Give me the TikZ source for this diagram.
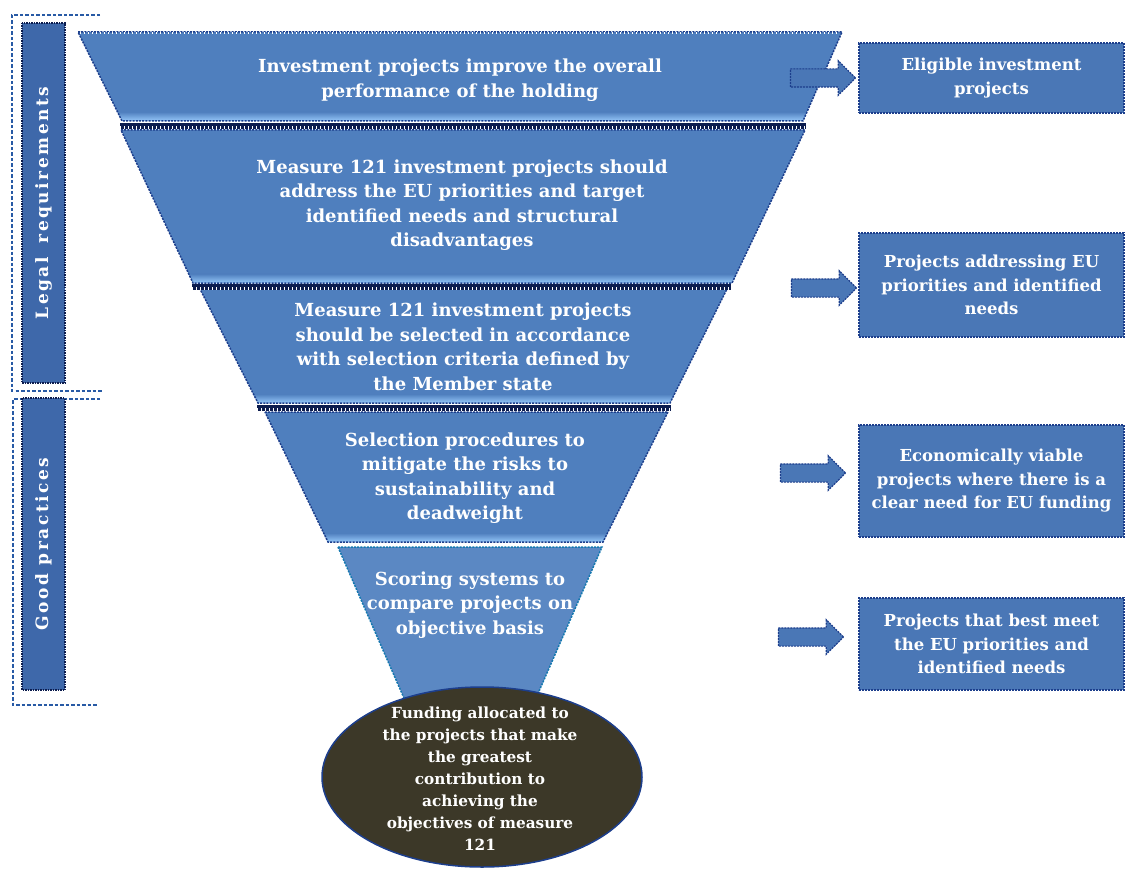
\documentclass[tikz,border=0pt]{standalone}
\usepackage{fontspec}
\setmainfont{DejaVu Serif}
\usetikzlibrary{positioning, calc, shapes.geometric, shapes.arrows}

\definecolor{funnelblue}{RGB}{79,127,190}
\definecolor{edgeblue}{RGB}{28,62,140}
\definecolor{lightband}{RGB}{150,200,250}
\definecolor{navyline}{RGB}{12,28,78}
\definecolor{boxblue}{RGB}{74,119,182}
\definecolor{sideblue}{RGB}{62,104,170}
\definecolor{fundcolor}{RGB}{60,56,40}
\definecolor{bracketblue}{RGB}{40,90,165}

\begin{document}
\begin{tikzpicture}[x=1pt,y=-1pt]
\tikzset{layer/.style={fill=funnelblue},
  layeredge/.style={draw=edgeblue, line width=1.5pt, dash pattern=on 2pt off 1.2pt},
  layertext/.style={text=white, font=\fontsize{18}{24.5}\selectfont\bfseries, align=center},
  outcome/.style={rectangle, fill=boxblue, draw=edgeblue, line width=1.5pt, dash pattern=on 2pt off 1pt, minimum width=265pt, text=white, font=\fontsize{16.5}{23.5}\selectfont\bfseries, align=center},
  flowarrow/.style={single arrow, fill=boxblue, draw=edgeblue, line width=1.2pt, dash pattern=on 2pt off 1pt, minimum height=65pt, minimum width=34pt, single arrow head extend=8pt, inner xsep=0pt, inner ysep=8.5pt},
  sidebox/.style={rectangle, fill=sideblue, draw=navyline, line width=1.3pt, dash pattern=on 1.5pt off 1pt, minimum height=43pt, text=white, font=\fontsize{17}{20}\selectfont\bfseries\addfontfeatures{LetterSpace=15}},
  bracket/.style={draw=bracketblue, line width=2.5pt, dash pattern=on 3.5pt off 2pt},
  seam/.style={draw=navyline, line width=6pt},
  ticks/.style={draw=white, line width=3pt, dash pattern=on 1.2pt off 2.8pt}}

\useasboundingbox (0,0) rectangle (1126,869);

% funnel layers
\foreach \tl/\tr/\br/\bl/\yt/\yb in {78/842/803/122/32/121, 121/805/732/193/130/283, 200/727/670/258/289/403, 265/668/603/328/412/542}{
  \fill[layer] (\tl,\yt) -- (\tr,\yt) -- (\br,\yb) -- (\bl,\yb) -- cycle;
  \shade[top color=funnelblue, bottom color=lightband] ($(\bl,\yb)!10pt!(\tl,\yt)$) -- ($(\br,\yb)!10pt!(\tr,\yt)$) -- (\br,\yb) -- (\bl,\yb) -- cycle;
  \draw[layeredge] (\tl,\yt) -- (\tr,\yt) -- (\br,\yb) -- (\bl,\yb) -- cycle;
}
\fill[funnelblue!93!white] (338,547) -- (602,547) -- (533,705) -- (407,705) -- cycle;
\draw[layeredge, draw=edgeblue!70!cyan] (338,547) -- (602,547) -- (533,705) -- (407,705) -- cycle;

% seams between the layers
\foreach \xl/\xr/\y in {120/806/126, 192/731/286.5, 257/671/407.5}{
  \draw[seam] (\xl,\y) -- (\xr,\y);
  \draw[ticks] (\xl,\y+1.5) -- (\xr,\y+1.5);
}
\draw[draw=white, line width=1.5pt, dash pattern=on 1pt off 3pt] (332,545) -- (602,545);
\draw[draw=white, line width=1.2pt, dash pattern=on 1pt off 3pt] (80,33) -- (840,33);

\node[layertext] (holding) at (460,80) {Investment projects improve the overall\\performance of the holding};
\node[layertext] (priorities) at (462,205) {Measure 121 investment projects should\\address the EU priorities and target\\identified needs and structural\\disadvantages};
\node[layertext] (criteria) at (463,347) {Measure 121 investment projects\\should be selected in accordance\\with selection criteria defined by\\the Member state};
\node[layertext] (procedures) at (465,478) {Selection procedures to\\mitigate the risks to\\sustainability and\\deadweight};
\node[layertext] (scoring) at (470,605) {Scoring systems to\\compare projects on\\objective basis};

\node[ellipse, minimum width=320pt, minimum height=180pt, fill=fundcolor, draw=edgeblue, line width=1.5pt] (funding) at (482,777) {};
\node[text=white, font=\fontsize{15.3}{22}\selectfont\bfseries, align=center] (fundingtext) at (480,779) {Funding allocated to\\the projects that make\\the greatest\\contribution to\\achieving the\\objectives of measure\\121};

% outcomes on the right
\node[outcome, minimum height=70pt] (eligible) at (991.5,78) {Eligible investment\\projects};
\node[outcome, minimum height=104pt] (addressing) at (991.5,285) {Projects addressing EU\\priorities and identified\\needs};
\node[outcome, minimum height=112pt] (viable) at (991.5,481) {Economically viable\\projects where there is a\\clear need for EU funding};
\node[outcome, minimum height=92pt] (bestmeet) at (991.5,644) {Projects that best meet\\the EU priorities and\\identified needs};

\node[flowarrow, left=2pt of eligible] (toeligible) {};
\node[flowarrow, left=1pt of addressing, yshift=-3pt] (toaddressing) {};
\node[flowarrow, left=12pt of viable, yshift=8pt] (toviable) {};
\node[flowarrow, left=14pt of bestmeet, yshift=7pt] (tobestmeet) {};

% legal / good practice side labels
\draw[bracket] (100,15) -- (12,15) -- (12,391) -- (103,391);
\draw[bracket] (100,399) -- (13,399) -- (13,705) -- (97,705);
\node[sidebox, rotate=90, minimum width=360pt] (legal) at (43.5,203) {Legal\hspace{0.8em}requirements};
\node[sidebox, rotate=90, minimum width=292pt] (goodpractice) at (43.5,544) {Good practices};

\end{tikzpicture}
\end{document}
